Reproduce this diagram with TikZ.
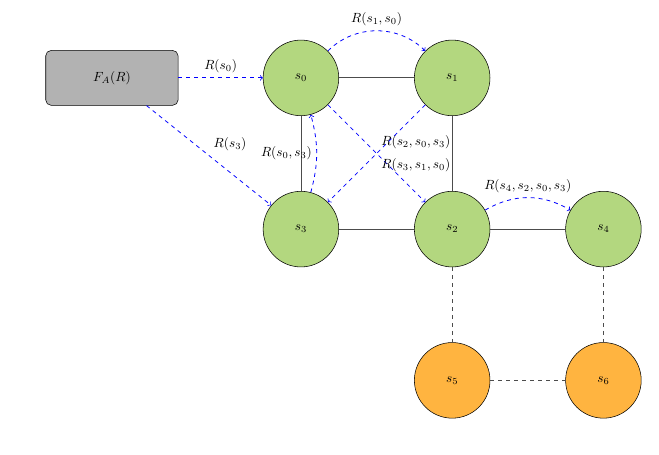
\documentclass[tikz,border=0pt]{standalone}
\usepackage{amsmath}
\usepackage{xcolor}
\usepackage{tikz}

\definecolor{nodegreen}{RGB}{179,215,127}
\definecolor{nodeorange}{RGB}{255,180,64}

\begin{document}
\begin{tikzpicture}[>=to]
	    \tikzstyle{state}=[draw,shape=circle,fill=nodegreen,minimum size=2cm]
	    \tikzstyle{spare}=[draw,shape=circle,fill=nodeorange,minimum size=2cm]
	    \tikzstyle{agent}=[draw,rounded corners=4pt,fill=black!30,minimum width=3.5cm,minimum height=1.45cm]
	    \tikzstyle{link}=[draw=black!70,semithick]
	    \tikzstyle{route}=[->,draw=blue,dashed,semithick]
	    \useasboundingbox (-7.96,2.06) rectangle (9.47,-9.97);

	    \node[agent](fa) at (-5,0){$F_A(R)$};

	    \node[state](s0) at (0,0){$s_0$};
	    \node[state](s1) at (4,0){$s_1$};
	    \node[state](s3) at (0,-4){$s_3$};
	    \node[state](s2) at (4,-4){$s_2$};
	    \node[state](s4) at (8,-4){$s_4$};

	    \node[spare](s5) at (4,-8){$s_5$};
	    \node[spare](s6) at (8,-8){$s_6$};

	    \draw[link] (s0) -- (s1);
	    \draw[link] (s0) -- (s3);
	    \draw[link] (s1) -- (s2);
	    \draw[link] (s3) -- (s2);
	    \draw[link] (s2) -- (s4);

	    \draw[link,dashed] (s2) -- (s5);
	    \draw[link,dashed] (s4) -- (s6);
	    \draw[link,dashed] (s5) -- (s6);

	    \draw[route] (fa) -- node[above]{$R(s_0)$} (s0);
	    \draw[route] (fa) -- node[above right]{$R(s_3)$} (s3);
	    \draw[route] (s0) to[bend left=45] node[above]{$R(s_1, s_0)$} (s1);
	    \draw[route] (s3) to[bend right=15] node[left]{$R(s_0, s_3)$} (s0);
	    \draw[route] (s0) -- node[above right]{$R(s_2, s_0, s_3)$} (s2);
	    \draw[route] (s1) -- node[below right]{$R(s_3, s_1, s_0)$} (s3);
	    \draw[route] (s2) to[bend left] node[above]{$R(s_4, s_2, s_0, s_3)$} (s4);
	\end{tikzpicture}
\end{document}
